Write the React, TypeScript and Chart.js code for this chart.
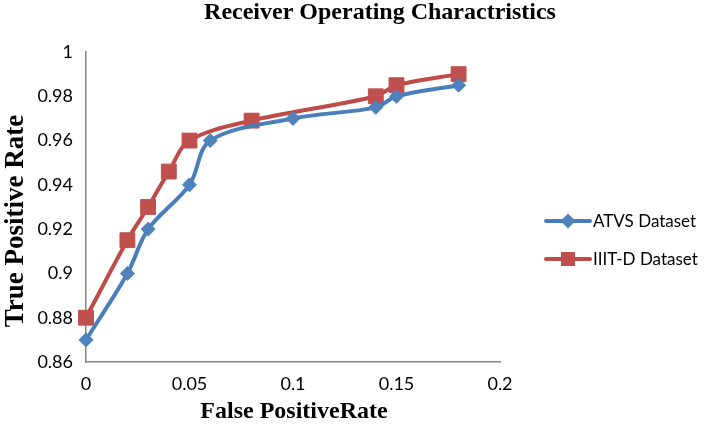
import React, { useEffect, useRef } from "react";
import { Chart, registerables } from "chart.js";

Chart.register(...registerables);

const chartTitle = "Receiver Operating Charactristics";
const xAxisTitle = "False PositiveRate";
const yAxisTitle = "True Positive Rate";

const seriesNames = ["ATVS Dataset", "IIIT-D Dataset"];

const fprAtvs = [0, 0.02, 0.03, 0.05, 0.06, 0.1, 0.14, 0.15, 0.18];
const tprAtvs = [0.87, 0.9, 0.92, 0.94, 0.96, 0.97, 0.975, 0.98, 0.985];

const fprIiitd = [0, 0.02, 0.03, 0.04, 0.05, 0.08, 0.14, 0.15, 0.18];
const tprIiitd = [0.88, 0.915, 0.93, 0.946, 0.96, 0.969, 0.98, 0.985, 0.99];

const xMin = 0;
const xMax = 0.2;
const xStep = 0.05;
const yMin = 0.86;
const yMax = 1;
const yStep = 0.02;

const BLUE_LINE = "#4A7EBB";
const BLUE_MARK = "#4F81BD";
const RED_LINE = "#BE4B48";
const RED_MARK = "#C0504D";

const fmt = (v: number | string) => String(+Number(v).toFixed(3));

const textPlugin = {
  id: "textPlugin",
  afterDraw(chart: any) {
    const ctx = chart.ctx as CanvasRenderingContext2D;
    const area = chart.chartArea;
    ctx.save();
    ctx.fillStyle = "#000";
    // title
    ctx.font = "bold 24px 'Liberation Serif', 'Times New Roman', serif";
    ctx.textAlign = "center";
    ctx.textBaseline = "alphabetic";
    ctx.fillText(chartTitle, 380, 19);
    // x title
    ctx.fillText(xAxisTitle, 294, 418);
    // y title
    ctx.save();
    ctx.translate(23, (area.top + area.bottom) / 2 + 14);
    ctx.rotate(-Math.PI / 2);
    ctx.font = "bold 27px 'Liberation Serif', 'Times New Roman', serif";
    ctx.textAlign = "center";
    ctx.fillText(yAxisTitle, 0, 0);
    ctx.restore();

    // legend
    const items = [
      { name: seriesNames[0], line: BLUE_LINE, mark: BLUE_MARK, shape: "diamond" },
      { name: seriesNames[1], line: RED_LINE, mark: RED_MARK, shape: "square" },
    ];
    items.forEach((it, i) => {
      const y = 221 + i * 38;
      const x0 = 546;
      const x1 = 590;
      const cx = (x0 + x1) / 2;
      ctx.strokeStyle = it.line;
      ctx.lineWidth = 4;
      ctx.lineCap = "round";
      ctx.beginPath();
      ctx.moveTo(x0, y);
      ctx.lineTo(x1, y);
      ctx.stroke();
      ctx.fillStyle = it.mark;
      ctx.beginPath();
      if (it.shape === "diamond") {
        ctx.moveTo(cx, y - 7.5);
        ctx.lineTo(cx + 7.5, y);
        ctx.lineTo(cx, y + 7.5);
        ctx.lineTo(cx - 7.5, y);
        ctx.closePath();
      } else {
        ctx.rect(cx - 7, y - 7, 14, 14);
      }
      ctx.fill();
      ctx.fillStyle = "#000";
      ctx.font = "17px Lato, 'Open Sans', sans-serif";
      ctx.textAlign = "left";
      ctx.textBaseline = "middle";
      ctx.fillText(it.name, 593, y + 1);
    });
    ctx.restore();
  },
};

export default function App() {
  const ref = useRef<HTMLCanvasElement | null>(null);

  useEffect(() => {
    document.body.style.margin = "0";
    const canvas = ref.current;
    if (!canvas) return;
    const chart = new Chart(canvas, {
      type: "scatter",
      data: {
        datasets: [
          {
            label: seriesNames[0],
            data: fprAtvs.map((x, i) => ({ x, y: tprAtvs[i] })),
            showLine: true,
            borderColor: BLUE_LINE,
            backgroundColor: BLUE_MARK,
            borderWidth: 4,
            tension: 0.33,
            pointStyle: "rectRot",
            pointRadius: 7,
            pointBorderWidth: 1,
            pointBorderColor: BLUE_MARK,
            pointBackgroundColor: BLUE_MARK,
            clip: false,
          } as any,
          {
            label: seriesNames[1],
            data: fprIiitd.map((x, i) => ({ x, y: tprIiitd[i] })),
            showLine: true,
            borderColor: RED_LINE,
            backgroundColor: RED_MARK,
            borderWidth: 4,
            tension: 0.33,
            pointStyle: "rect",
            pointRadius: 10.5,
            pointBorderWidth: 1,
            pointBorderColor: RED_MARK,
            pointBackgroundColor: RED_MARK,
            clip: false,
          } as any,
        ],
      },
      options: {
        responsive: false,
        animation: false,
        devicePixelRatio: 1,
        layout: { padding: { top: 52, right: 210, left: 0, bottom: 0 } },
        plugins: {
          legend: { display: false },
          tooltip: { enabled: false },
          title: { display: false },
        },
        scales: {
          x: {
            type: "linear",
            min: xMin,
            max: xMax,
            ticks: {
              stepSize: xStep,
              color: "#000",
              font: { family: "Lato, 'Open Sans', sans-serif", size: 18 },
              padding: 11,
              callback: (v: any) => fmt(v),
            },
            grid: { display: false, drawTicks: false },
            border: { display: true, color: "#868686", width: 1.5 },
            afterFit: (s: any) => {
              s.height = 65;
            },
          },
          y: {
            type: "linear",
            min: yMin,
            max: yMax,
            ticks: {
              stepSize: yStep,
              color: "#000",
              font: { family: "Lato, 'Open Sans', sans-serif", size: 18 },
              padding: 13,
              callback: (v: any) => fmt(v),
            },
            grid: { display: false, drawTicks: false },
            border: { display: true, color: "#868686", width: 1.5 },
            afterFit: (s: any) => {
              s.width = 86;
            },
          },
        },
      } as any,
      plugins: [textPlugin],
    });
    return () => chart.destroy();
  }, []);

  return (
    <div style={{ width: 710, height: 427, overflow: "hidden", background: "#fff" }}>
      <canvas ref={ref} width={710} height={427} style={{ display: "block" }} />
    </div>
  );
}
